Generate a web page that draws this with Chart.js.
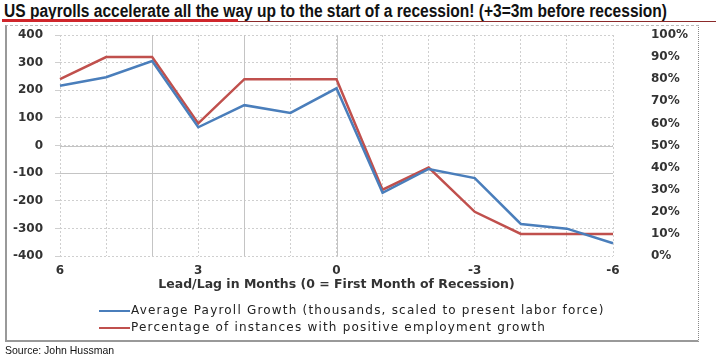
<!DOCTYPE html>
<html>
<head>
<meta charset="utf-8">
<script src="https://cdn.jsdelivr.net/npm/chart.js@4.4.1/dist/chart.umd.min.js"></script>
<style>
  html, body { margin: 0; padding: 0; background: #fff; }
  #wrap { position: relative; width: 716px; height: 362px; overflow: hidden; }
  #title {
    position: absolute; left: 4px; top: 1px; white-space: nowrap;
    font-family: "Liberation Sans Narrow", "Liberation Sans", Arial, sans-serif;
    font-weight: bold; font-size: 17.5px; color: #111; transform-origin: 0 0;
  }
  #redbar { position: absolute; left: 2px; top: 19px; width: 236px; height: 3px; background: #d0262b; }
  #rule { position: absolute; left: 238px; top: 21px; right: 0; height: 1px; background: #8b2a2a; }
  #box {
    position: absolute; left: 5px; top: 25px; width: 691px; height: 314px;
    border-top: 1px dashed #bbb; border-right: 1px dotted #888;
    border-left: 2px solid #999; border-bottom: 2px solid #999;
  }
  #chart { position: absolute; left: 0; top: 0; }
  #legend {
    position: absolute; left: 99px; top: 302px;
    font-family: "DejaVu Sans", Verdana, sans-serif; font-size: 12px; letter-spacing: 1.2px; color: #222;
  }
  .item { height: 17px; line-height: 17px; white-space: nowrap; }
  .swatch { display: inline-block; width: 31px; height: 2px; vertical-align: middle; margin-right: 1px; }
  #source {
    position: absolute; left: 5px; top: 344px;
    font-family: "Liberation Sans", Arial, sans-serif; font-size: 10.5px; color: #111;
  }
</style>
</head>
<body>
<div id="wrap">
  <div id="title">US payrolls accelerate all the way up to the start of a recession! (+3=3m before recession)</div>
  <div id="redbar"></div>
  <div id="rule"></div>
  <div id="box"></div>
  <canvas id="chart" width="716" height="362"></canvas>
  <div id="legend"></div>
  <div id="source">Source: John Hussman</div>
</div>
<script>
// months relative to first month of recession
const months = ['6', '5', '4', '3', '2', '1', '0', '-1', '-2', '-3', '-4', '-5', '-6'];
const shownMonths = ['6', '3', '0', '-3', '-6'];

// average payroll growth, thousands
const payrollGrowth = [216, 247, 306, 66, 146, 118, 207, -171, -85, -118, -284, -301, -354];
// % of instances with positive employment growth
const pctPositive = [80, 90, 90, 60, 80, 80, 80, 30, 40, 20, 10, 10, 10];

const seriesNames = [
  'Average Payroll Growth (thousands, scaled to present labor force)',
  'Percentage of instances with positive employment growth'
];
const seriesColors = ['#4a7ebb', '#c0504d'];

const payrollTicks = [-400, -300, -200, -100, 0, 100, 200, 300, 400];

// squeeze the title into its width like the original condensed face
(function fitTitle() {
  const el = document.getElementById('title');
  const w = el.getBoundingClientRect().width;
  const target = 663;
  el.style.transform = 'scaleX(' + (target / w) + ')';
})();

const tickFont = { family: 'DejaVu Sans', size: 12, weight: 'bold' };

// a few of the grid lines are solid in the original, the rest dotted
const solidLines = {
  id: 'solidLines',
  beforeDatasetsDraw(chart) {
    const { ctx, chartArea, scales } = chart;
    ctx.save();
    ctx.strokeStyle = '#c4c4c4';
    ctx.lineWidth = 1;
    [0, -100].forEach(v => {
      const y = Math.round(scales.y.getPixelForValue(v)) + 0.5;
      ctx.beginPath(); ctx.moveTo(chartArea.left, y); ctx.lineTo(chartArea.right, y); ctx.stroke();
    });
    ['4', '2', '0'].forEach(m => {
      const x = Math.round(scales.x.getPixelForValue(months.indexOf(m))) + 0.5;
      ctx.beginPath(); ctx.moveTo(x, chartArea.top); ctx.lineTo(x, chartArea.bottom); ctx.stroke();
    });
    ctx.restore();
  }
};

const chart = new Chart(document.getElementById('chart'), {
  type: 'line',
  data: {
    labels: months,
    datasets: [
      {
        label: seriesNames[0],
        data: payrollGrowth,
        borderColor: seriesColors[0],
        backgroundColor: seriesColors[0],
        borderWidth: 2.5,
        pointRadius: 0,
        tension: 0,
        yAxisID: 'y'
      },
      {
        label: seriesNames[1],
        data: pctPositive,
        borderColor: seriesColors[1],
        backgroundColor: seriesColors[1],
        borderWidth: 2.5,
        pointRadius: 0,
        tension: 0,
        yAxisID: 'y1'
      }
    ]
  },
  options: {
    responsive: false,
    animation: false,
    events: [],
    layout: { padding: { left: 8, right: 0, top: 35, bottom: 64 } },
    plugins: { legend: { display: false }, tooltip: { enabled: false } },
    scales: {
      x: {
        offset: false,
        grid: { color: '#cfcfcf', drawTicks: false },
        border: { display: false, dash: [2, 2] },
        ticks: {
          autoSkip: false, maxRotation: 0, padding: 8, color: '#333', font: tickFont,
          callback: function (v) {
            const m = months[v];
            return shownMonths.includes(m) ? m : '';
          }
        },
        title: {
          display: true,
          text: 'Lead/Lag in Months (0 = First Month of Recession)',
          color: '#333',
          font: { family: 'DejaVu Sans', size: 12.5, weight: 'bold' },
          padding: { top: 2, bottom: 6 }
        },
        afterFit: s => { s.height = 42; }
      },
      y: {
        position: 'left',
        min: -400, max: 400,
        grid: { color: '#cfcfcf', tickLength: 5 },
        border: { display: false, dash: [2, 2] },
        afterBuildTicks: s => { s.ticks = payrollTicks.map(v => ({ value: v })); },
        ticks: { padding: 12, color: '#333', font: tickFont },
        afterFit: s => { s.width = 52; }
      },
      y1: {
        position: 'right',
        min: 0, max: 100,
        // long invisible tick marks push the labels out without adding top padding
        grid: { drawOnChartArea: false, drawTicks: true, tickLength: 38, tickColor: 'rgba(0,0,0,0)' },
        border: { display: false },
        ticks: {
          stepSize: 10, padding: 0, color: '#333', font: tickFont,
          callback: v => v + '%'
        },
        afterFit: s => { s.width = 103; }
      }
    }
  },
  plugins: [solidLines]
});

// legend rows, one per series
const legend = document.getElementById('legend');
seriesNames.forEach((name, i) => {
  const row = document.createElement('div');
  row.className = 'item';
  const sw = document.createElement('span');
  sw.className = 'swatch';
  sw.style.background = seriesColors[i];
  row.appendChild(sw);
  row.appendChild(document.createTextNode(name));
  legend.appendChild(row);
});
</script>
</body>
</html>
